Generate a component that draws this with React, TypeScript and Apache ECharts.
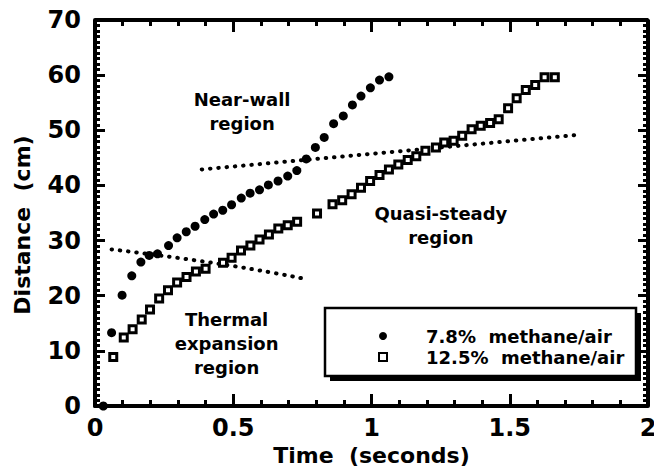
import React, { useEffect, useRef } from "react";
import * as echarts from "echarts";

// Axis ticks
const xTickValues = [0, 0.5, 1, 1.5, 2];
const yTickValues = [0, 10, 20, 30, 40, 50, 60, 70];

// Series names
const seriesNames = ["7.8%  methane/air", "12.5%  methane/air"];

// 7.8% methane/air : [time (s), distance (cm)]
const lean: [number, number][] = [
  [0.03, 0.0], [0.06, 13.3], [0.098, 20.1], [0.133, 23.6], [0.166, 26.1],
  [0.196, 27.3], [0.226, 27.6], [0.266, 29.1], [0.297, 30.5], [0.33, 31.6],
  [0.362, 32.6], [0.397, 33.8], [0.429, 34.8], [0.462, 35.5], [0.494, 36.5],
  [0.529, 37.7], [0.561, 38.6], [0.595, 39.2], [0.627, 40.1], [0.662, 40.8],
  [0.697, 41.7], [0.73, 42.7], [0.764, 44.8], [0.797, 46.9], [0.829, 48.7],
  [0.863, 51.2], [0.898, 52.6], [0.931, 54.6], [0.962, 56.2], [0.996, 57.7],
  [1.029, 59.1], [1.063, 59.7],
];

// 12.5% methane/air : [time (s), distance (cm)]
const rich: [number, number][] = [
  [0.066, 8.9], [0.104, 12.4], [0.136, 13.9], [0.169, 15.7], [0.199, 17.5],
  [0.232, 19.5], [0.264, 21.0], [0.297, 22.4], [0.331, 23.4], [0.365, 24.4],
  [0.4, 24.9], [0.463, 26.0], [0.494, 26.9], [0.528, 28.2], [0.562, 29.1],
  [0.595, 30.2], [0.629, 31.1], [0.663, 32.2], [0.697, 32.8], [0.731, 33.4],
  [0.803, 34.9], [0.859, 36.6], [0.894, 37.3], [0.928, 38.4], [0.962, 39.6],
  [0.995, 40.8], [1.029, 41.9], [1.063, 42.9], [1.097, 43.8], [1.131, 44.6],
  [1.162, 45.3], [1.195, 46.3], [1.233, 46.9], [1.263, 47.8], [1.297, 48.1],
  [1.328, 49.0], [1.362, 50.2], [1.395, 50.8], [1.429, 51.3], [1.46, 52.0],
  [1.494, 54.0], [1.525, 55.8], [1.558, 57.3], [1.592, 58.2], [1.626, 59.6],
  [1.663, 59.6],
];

// Dotted guide lines
const thermalFit: [number, number][] = [[0.06, 28.4], [0.46, 25.7], [0.766, 23.0]];
const steadyFit: [number, number][] = [[0.386, 42.9], [1.754, 49.2]];

// Region annotations (text, anchor in data coordinates)
const regionTexts = ["Near-wall\nregion", "Quasi-steady\nregion", "Thermal\nexpansion\nregion"];
const regionAnchors: [number, number][] = [[0.532, 53.4], [1.251, 32.7], [0.476, 11.4]];

const FONT = "DejaVu Sans";
const X_MIN = xTickValues[0];
const X_MAX = xTickValues[xTickValues.length - 1];
const Y_MIN = yTickValues[0];
const Y_MAX = yTickValues[yTickValues.length - 1];

// Layout
const W = 654;
const H = 470;
const G = { left: 95, right: 6, top: 20, bottom: 64 };

export default function App() {
  const ref = useRef<HTMLDivElement>(null);
  useEffect(() => {
    document.body.style.margin = "0";
    document.body.style.overflow = "hidden";
    if (!ref.current) return;
    const chart = echarts.init(ref.current, null, { renderer: "svg" });
    const dotted = {
      color: "#000",
      width: 4,
      type: [0.5, 7.8] as number[],
      cap: "round" as const,
    };

    const gx0 = G.left;
    const gx1 = W - G.right;
    const gy0 = G.top;
    const gy1 = H - G.bottom;
    const pxPerX = (gx1 - gx0) / (X_MAX - X_MIN);
    const pxPerY = (gy1 - gy0) / (Y_MAX - Y_MIN);

    // Top and right inward ticks as mark lines (through the axes' scales)
    const tickLines: any[] = [];
    const nx = Math.round((X_MAX - X_MIN) / 0.1);
    for (let i = 0; i <= nx; i++) {
      const v = X_MIN + ((X_MAX - X_MIN) * i) / nx;
      const len = (i % 5 === 0 ? 12 : 6) / pxPerY;
      tickLines.push([{ coord: [v, Y_MAX] }, { coord: [v, Y_MAX - len] }]);
    }
    const ny = Math.round(Y_MAX - Y_MIN);
    for (let i = 0; i <= ny; i++) {
      const v = Y_MIN + i;
      const len = (i % 10 === 0 ? 10 : 5) / pxPerX;
      tickLines.push([{ coord: [X_MAX, v] }, { coord: [X_MAX - len, v] }]);
    }

    const legendBox = [
      { type: "rect", z: 10, shape: { x: 330, y: 313, width: 311, height: 68 }, style: { fill: "#000" } },
      {
        type: "rect",
        z: 11,
        shape: { x: 325, y: 308, width: 311, height: 68 },
        style: { fill: "#fff", stroke: "#000", lineWidth: 2.5 },
      },
    ];

    chart.setOption({
      animation: false,
      backgroundColor: "#fff",
      textStyle: { fontFamily: FONT },
      grid: {
        left: G.left,
        right: G.right,
        top: G.top,
        bottom: G.bottom,
        containLabel: false,
        outerBoundsMode: "none",
      },
      xAxis: {
        type: "value",
        min: X_MIN,
        max: X_MAX,
        interval: 0.5,
        position: "bottom",
        axisLine: { show: true, onZero: false, lineStyle: { color: "#000", width: 4 } },
        splitLine: { show: false },
        axisTick: { show: true, inside: true, length: 12, lineStyle: { color: "#000", width: 3 } },
        minorTick: { show: true, splitNumber: 5, length: 6, lineStyle: { color: "#000", width: 3 } },
        name: "Time  (seconds)",
        nameLocation: "middle",
        nameGap: 36,
        nameTextStyle: { fontFamily: FONT, fontWeight: "bold", fontSize: 22, color: "#000" },
        axisLabel: {
          show: true,
          margin: 10,
          fontFamily: FONT,
          fontWeight: "bold",
          fontSize: 24,
          color: "#000",
          formatter: (v: number) => String(v),
        },
      },
      yAxis: {
        type: "value",
        min: Y_MIN,
        max: Y_MAX,
        interval: 10,
        position: "left",
        axisLine: { show: true, onZero: false, lineStyle: { color: "#000", width: 4 } },
        splitLine: { show: false },
        axisTick: { show: true, inside: true, length: 10, lineStyle: { color: "#000", width: 3 } },
        minorTick: { show: true, splitNumber: 10, length: 5, lineStyle: { color: "#000", width: 3 } },
        name: "Distance  (cm)",
        nameLocation: "middle",
        nameGap: 62,
        nameTextStyle: {
          fontFamily: FONT,
          fontWeight: "bold",
          fontSize: 22,
          color: "#000",
          padding: [0, 24, 0, 0],
        },
        axisLabel: {
          show: true,
          margin: 14,
          fontFamily: FONT,
          fontWeight: "bold",
          fontSize: 24,
          color: "#000",
        },
      },
      legend: {
        data: seriesNames,
        orient: "vertical",
        left: 373,
        top: 322,
        itemWidth: 8,
        itemHeight: 8,
        itemGap: 3,
        z: 20,
        textStyle: {
          fontFamily: FONT,
          fontWeight: "bold",
          fontSize: 18,
          color: "#000",
          padding: [0, 0, 0, 34],
        },
      },
      graphic: legendBox,
      series: [
        {
          name: "frame",
          type: "line",
          data: [[X_MIN, Y_MAX], [X_MAX, Y_MAX], [X_MAX, Y_MIN]],
          symbol: "none",
          clip: false,
          silent: true,
          lineStyle: { color: "#000", width: 4, type: "solid" },
          z: 6,
          markLine: {
            silent: true,
            symbol: ["none", "none"],
            label: { show: false },
            lineStyle: { color: "#000", width: 3, type: "solid" },
            data: tickLines,
          },
        },
        {
          name: "thermal fit",
          type: "line",
          data: thermalFit,
          smooth: true,
          symbol: "none",
          lineStyle: dotted,
          z: 3,
        },
        {
          name: "steady fit",
          type: "line",
          data: steadyFit,
          symbol: "none",
          lineStyle: dotted,
          z: 3,
        },
        {
          name: seriesNames[0],
          type: "scatter",
          data: lean,
          symbol: "circle",
          symbolSize: 9,
          itemStyle: { color: "#000", opacity: 1 },
          z: 4,
        },
        {
          name: seriesNames[1],
          type: "scatter",
          data: rich,
          symbol: "rect",
          symbolSize: 7,
          itemStyle: { color: "#fff", borderColor: "#000", borderWidth: 3, opacity: 1 },
          z: 4,
        },
        {
          name: "regions",
          type: "scatter",
          symbolSize: 0,
          silent: true,
          itemStyle: { opacity: 1 },
          data: regionAnchors.map((p, i) => ({ value: p, name: regionTexts[i] })),
          label: {
            show: true,
            position: "inside",
            formatter: (p: any) => p.name,
            fontFamily: FONT,
            fontWeight: "bold",
            fontSize: 18,
            lineHeight: 24,
            color: "#000",
            opacity: 1,
            align: "center",
            verticalAlign: "middle",
          },
          z: 5,
        },
      ],
    });

    return () => chart.dispose();
  }, []);
  return (
    <div
      ref={ref}
      style={{ position: "absolute", left: 0, top: 0, width: W, height: H }}
    />
  );
}
